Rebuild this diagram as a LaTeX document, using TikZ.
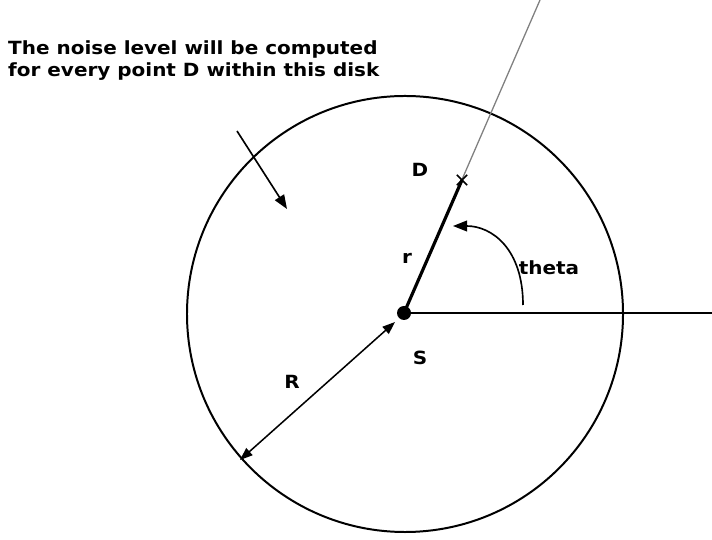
\documentclass[tikz,border=0pt]{standalone}
\usepackage{fontspec}
\setmainfont{DejaVu Sans}
\newfontfamily\notefont[FakeStretch=1.1]{DejaVu Sans}
\usetikzlibrary{arrows.meta, positioning, shapes.misc}

\begin{document}
\begin{tikzpicture}[
    x=0.03cm, y=0.03cm,
    lbl/.style={font=\notefont\bfseries\fontsize{15.5}{19}\selectfont, inner sep=0pt},
    arrow/.style={-{Triangle[length=0.42cm, width=0.32cm]}, line width=1.4pt},
    twoway/.style={{Triangle[length=0.38cm, width=0.28cm]}-{Triangle[length=0.38cm, width=0.28cm]}, line width=1.3pt}
]
\useasboundingbox (0,0) rectangle (712,539);

% points
\coordinate (S) at (404,226);
\coordinate (D) at (462,359);
\coordinate (ray) at (540,539);
\coordinate (east) at (712,226);
\coordinate (tstart) at (523,234);
\coordinate (tend) at (453,313);
\coordinate (Rin) at (395,217);
\coordinate (Rout) at (240,79);
\coordinate (ptail) at (237,408);
\coordinate (phead) at (287,330);

% disk, rays and source
\node[circle, draw, line width=1.7pt, inner sep=0pt, minimum size=13.08cm] (disk) at (405,225) {};
\draw[gray, line width=1.1pt] (S) -- (ray);
\draw[line width=1.6pt] (S) -- (east);
\draw[line width=2.7pt] (S) -- (D);
\node[cross out, draw, line width=1.4pt, inner sep=0pt, minimum size=0.26cm] (dmark) at (D) {};
\node[circle, fill, inner sep=0pt, minimum size=0.42cm] (src) at (S) {};

% arrows
\draw[arrow] (tstart) .. controls (523,290) and (492,313) .. (tend);
\draw[twoway] (Rout) -- (Rin);
\draw[arrow] (ptail) -- (phead);

% labels
\node[lbl, anchor=north west, align=left] (note) at (8,499)
  {The noise level will be computed\\for every point D within this disk};
\node[lbl] (dlbl) at (420,369) {D};
\node[lbl] (rlbl) at (407,281) {r};
\node[lbl] (thlbl) at (549,271) {theta};
\node[lbl] (slbl) at (420,181) {S};
\node[lbl] (Rlbl) at (292,157) {R};

\end{tikzpicture}
\end{document}
